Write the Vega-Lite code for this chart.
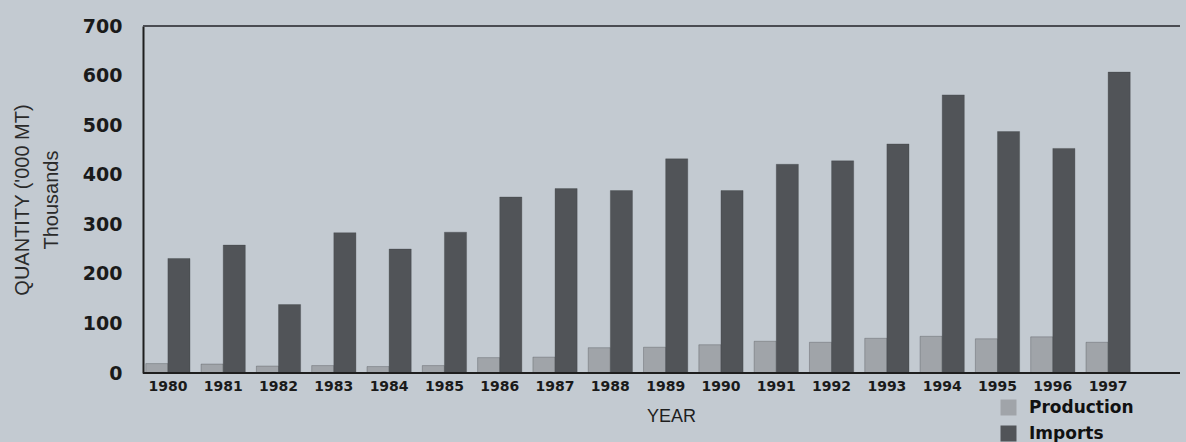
{
  "$schema": "https://vega.github.io/schema/vega-lite/v6.json",
  "width": 1037,
  "height": 347,
  "autosize": {"type": "none"},
  "padding": {"left": 143, "top": 26, "right": 6, "bottom": 69},
  "background": "#c3cad1",
  "config": {
    "view": {"stroke": null},
    "font": "Liberation Sans"
  },
  "data": {
    "values": [
      {"year": "1980", "series": "Production", "value": 19},
      {"year": "1981", "series": "Production", "value": 18},
      {"year": "1982", "series": "Production", "value": 14},
      {"year": "1983", "series": "Production", "value": 15},
      {"year": "1984", "series": "Production", "value": 13},
      {"year": "1985", "series": "Production", "value": 15},
      {"year": "1986", "series": "Production", "value": 31},
      {"year": "1987", "series": "Production", "value": 32},
      {"year": "1988", "series": "Production", "value": 51},
      {"year": "1989", "series": "Production", "value": 52},
      {"year": "1990", "series": "Production", "value": 57},
      {"year": "1991", "series": "Production", "value": 64},
      {"year": "1992", "series": "Production", "value": 62},
      {"year": "1993", "series": "Production", "value": 70},
      {"year": "1994", "series": "Production", "value": 74},
      {"year": "1995", "series": "Production", "value": 69},
      {"year": "1996", "series": "Production", "value": 73},
      {"year": "1997", "series": "Production", "value": 62},
      {"year": "1980", "series": "Imports", "value": 231},
      {"year": "1981", "series": "Imports", "value": 258},
      {"year": "1982", "series": "Imports", "value": 138},
      {"year": "1983", "series": "Imports", "value": 283},
      {"year": "1984", "series": "Imports", "value": 250},
      {"year": "1985", "series": "Imports", "value": 284},
      {"year": "1986", "series": "Imports", "value": 355},
      {"year": "1987", "series": "Imports", "value": 372},
      {"year": "1988", "series": "Imports", "value": 368},
      {"year": "1989", "series": "Imports", "value": 432},
      {"year": "1990", "series": "Imports", "value": 368},
      {"year": "1991", "series": "Imports", "value": 421},
      {"year": "1992", "series": "Imports", "value": 428},
      {"year": "1993", "series": "Imports", "value": 462},
      {"year": "1994", "series": "Imports", "value": 561},
      {"year": "1995", "series": "Imports", "value": 487},
      {"year": "1996", "series": "Imports", "value": 453},
      {"year": "1997", "series": "Imports", "value": 607}
    ]
  },
  "layer": [
    {
      "mark": {"type": "bar", "stroke": "#3a3d40", "strokeWidth": 0.6, "strokeOpacity": 0.5},
      "encoding": {
        "x": {
          "field": "year",
          "type": "nominal",
          "scale": {"range": [0, 990], "paddingInner": 0.2, "paddingOuter": 0.05},
          "axis": {
            "title": "YEAR",
            "titleFont": "Liberation Sans",
            "titleFontSize": 18,
            "titleFontWeight": "normal",
            "titleColor": "#1e1e1e",
            "titleX": 528,
            "titlePadding": 14,
            "labelAngle": 0,
            "labelFont": "DejaVu Sans",
            "labelFontSize": 14,
            "labelFontWeight": "bold",
            "labelColor": "#1a1a1a",
            "labelPadding": 6,
            "ticks": false,
            "domain": false
          }
        },
        "xOffset": {
          "field": "series",
          "type": "nominal",
          "sort": ["Production", "Imports"],
          "scale": {"paddingInner": 0, "paddingOuter": 0}
        },
        "y": {
          "field": "value",
          "type": "quantitative",
          "scale": {"domain": [0, 700], "nice": false},
          "axis": {
            "title": ["QUANTITY ('000 MT)", "Thousands"],
            "titleFont": "Liberation Sans",
            "titleFontSize": 20,
            "titleFontWeight": "normal",
            "titleColor": "#2a2a2a",
            "titleLineHeight": 29,
            "titlePadding": 21,
            "values": [0, 100, 200, 300, 400, 500, 600, 700],
            "labelFont": "DejaVu Sans",
            "labelFontSize": 19,
            "labelFontWeight": "bold",
            "labelColor": "#1a1a1a",
            "labelPadding": 21,
            "ticks": false,
            "grid": false,
            "domain": true,
            "domainColor": "#1e1e1e",
            "domainWidth": 2
          }
        },
        "fill": {
          "field": "series",
          "type": "nominal",
          "sort": ["Production", "Imports"],
          "scale": {"domain": ["Production", "Imports"], "range": ["#a0a4a9", "#515458"]},
          "legend": {
            "title": null,
            "orient": "none",
            "legendX": 857,
            "legendY": 373,
            "direction": "vertical",
            "symbolType": "square",
            "symbolSize": 256,
            "symbolStrokeWidth": 0,
            "rowPadding": 8,
            "labelFont": "DejaVu Sans",
            "labelFontSize": 17,
            "labelFontWeight": "bold",
            "labelColor": "#111111",
            "labelOffset": 12
          }
        }
      }
    },
    {
      "mark": {"type": "rule", "color": "#1e1e1e", "strokeWidth": 2},
      "encoding": {"y": {"datum": 0}}
    },
    {
      "mark": {"type": "rule", "color": "#4a4d52", "strokeWidth": 1.2},
      "encoding": {"y": {"datum": 700}}
    }
  ]
}
